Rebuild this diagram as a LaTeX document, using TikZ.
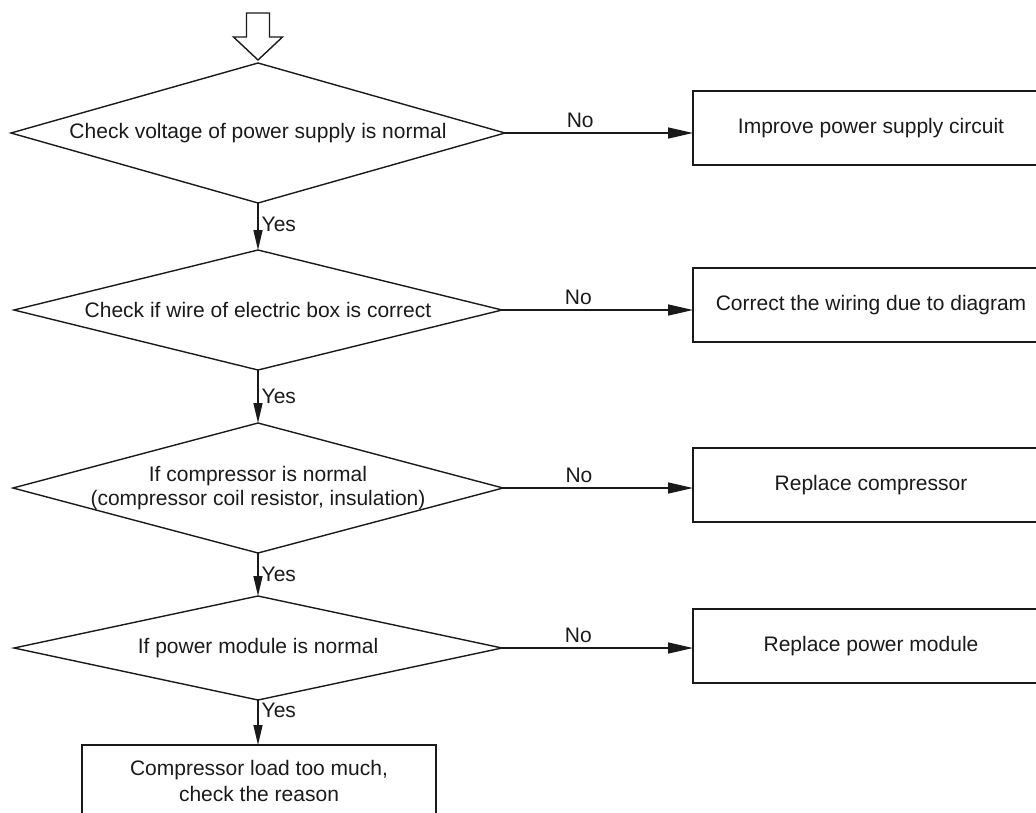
\documentclass[tikz,border=0pt]{standalone}
\usepackage{fontspec}
\setmainfont{Liberation Sans}
\usepackage{tikz}
\usetikzlibrary{arrows.meta,positioning,shapes.geometric}
\definecolor{ink}{HTML}{1A1A1A}
\tikzset{
  decision/.style={diamond,draw=ink,line width=1.4pt,inner sep=0pt,
                   outer sep=0pt},
  dtext/.style={align=center,inner sep=0pt,text=ink,
                font=\fontsize{21}{24}\selectfont},
  action/.style={draw=ink,line width=1.4pt,minimum width=356pt,
                 minimum height=74pt,inner sep=0pt,outer sep=0pt,
                 align=center,text=ink,font=\fontsize{21}{26}\selectfont},
  lbl/.style={text=ink,font=\fontsize{21}{24}\selectfont},
  noarr/.style={-{Triangle[length=25pt,width=11pt]},line width=1.4pt,
                draw=ink},
  yesarr/.style={-{Triangle[length=20pt,width=9pt]},line width=1.4pt,
                 draw=ink},
  startarr/.style={draw=ink,fill=white,line width=1.4pt,line join=miter}
}
\begin{document}
\begin{tikzpicture}[x=1pt,y=-1pt]
    \path[use as bounding box] (0,0) rectangle (1036,812);
    \node[decision,minimum width=494pt,minimum height=140pt] (chkvolt) at (258,133) {};
    \node[dtext] (chkvolttxt) at (chkvolt) {Check voltage of power supply is normal};
    \node[decision,minimum width=488pt,minimum height=120pt] (chkwire) at (258,310) {};
    \node[dtext] (chkwiretxt) at (chkwire) {Check if wire of electric box is correct};
    \node[decision,minimum width=490pt,minimum height=130pt] (chkcomp) at (258,488) {};
    \node[dtext] (chkcomptxt) at (chkcomp) {If compressor is normal\\(compressor coil resistor, insulation)};
    \node[decision,minimum width=488pt,minimum height=104pt] (chkmod) at (258,648) {};
    \node[dtext] (chkmodtxt) at (chkmod) {If power module is normal};

    \node[action] (fixsupply) at (871,128) {Improve power supply circuit};
    \node[action] (fixwiring) at (871,305) {Correct the wiring due to diagram};
    \node[action] (repcomp) at (871,485) {Replace compressor};
    \node[action] (repmod) at (871,646) {Replace power module};
    \node[action,minimum width=354pt,minimum height=72pt] (loadbox) at (259,781)
      {Compressor load too much,\\check the reason};

    \draw[startarr] ([yshift=3pt]chkvolt.north) -- ++(24.5,-23) -- ++(-13,0)
      -- ++(0,-24) -- ++(-23,0) -- ++(0,24) -- ++(-13,0) -- cycle;

    \draw[noarr] (chkvolt.east) -- (chkvolt.east -| fixsupply.west)
      node[lbl,above,pos=0.4,inner sep=5pt] {No};
    \draw[noarr] (chkwire.east) -- (chkwire.east -| fixwiring.west)
      node[lbl,above,pos=0.4,inner sep=5pt] {No};
    \draw[noarr] (chkcomp.east) -- (chkcomp.east -| repcomp.west)
      node[lbl,above,pos=0.4,inner sep=5pt] {No};
    \draw[noarr] (chkmod.east) -- (chkmod.east -| repmod.west)
      node[lbl,above,pos=0.4,inner sep=5pt] {No};

    \draw[yesarr] (chkvolt.south) -- (chkwire.north)
      node[lbl,right,pos=0.45,inner sep=3pt] {Yes};
    \draw[yesarr] (chkwire.south) -- (chkcomp.north)
      node[lbl,right,pos=0.5,inner sep=3pt] {Yes};
    \draw[yesarr] (chkcomp.south) -- (chkmod.north)
      node[lbl,right,pos=0.5,inner sep=3pt] {Yes};
    \draw[yesarr] (chkmod.south) -- (chkmod.south |- loadbox.north)
      node[lbl,right,pos=0.22,inner sep=3pt] {Yes};
  \end{tikzpicture}
\end{document}
